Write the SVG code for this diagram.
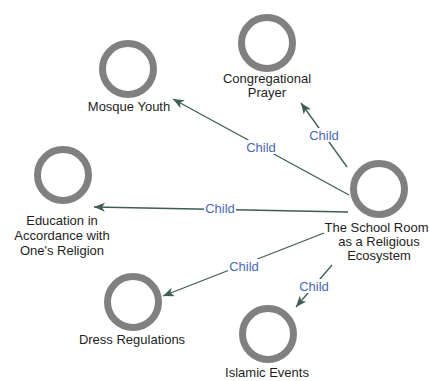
<svg xmlns="http://www.w3.org/2000/svg" width="429" height="381" viewBox="0 0 429 381">
<style>
.ring{fill:none;stroke:#808080;stroke-width:7}
.lbl{font-family:"Liberation Sans",Arial,sans-serif;font-size:13px;fill:#1e1e1e;text-anchor:middle}
.edge{stroke:#3e5d55;stroke-width:1.3;fill:none;marker-end:url(#arr)}
.el{font-family:"Liberation Sans",Arial,sans-serif;font-size:13px;fill:#4a68b2;text-anchor:middle}
.bg{fill:#fff}
</style>
<defs>
<marker id="arr" markerUnits="userSpaceOnUse" markerWidth="12" markerHeight="10" refX="11" refY="4.5" orient="auto">
<path d="M0,0 L11,4.5 L0,9 L3,4.5 z" fill="#3e5d55"/>
</marker>
</defs>
<rect width="429" height="381" fill="#fff"/>
<g id="connectors">
<line class="edge" x1="349" y1="195" x2="173" y2="99"/>
<rect class="bg" x="245" y="140" width="32" height="14"/>
<text class="el" x="261" y="152">Child</text>
<line class="edge" x1="347" y1="167" x2="301" y2="103"/>
<rect class="bg" x="308" y="128" width="32" height="14"/>
<text class="el" x="324" y="140">Child</text>
<line class="edge" x1="348" y1="212" x2="94" y2="207"/>
<rect class="bg" x="204" y="202" width="32" height="14"/>
<text class="el" x="220" y="213">Child</text>
<line class="edge" x1="324" y1="233" x2="163" y2="296"/>
<rect class="bg" x="228" y="259" width="32" height="14"/>
<text class="el" x="244" y="271">Child</text>
<line class="edge" x1="332" y1="265" x2="296" y2="307"/>
<rect class="bg" x="298" y="279" width="32" height="14"/>
<text class="el" x="314" y="291">Child</text>
</g>
<g id="school-room">
<circle class="ring" cx="379" cy="189" r="25.5"/>
<text class="lbl" x="376.5" y="232">The School Room</text>
<text class="lbl" x="379" y="246">as a Religious</text>
<text class="lbl" x="379" y="260">Ecosystem</text>
</g>
<g id="mosque-youth">
<circle class="ring" cx="128" cy="69" r="25.5"/>
<text class="lbl" x="129" y="111">Mosque Youth</text>
</g>
<g id="congregational-prayer">
<circle class="ring" cx="267" cy="43" r="25.5"/>
<text class="lbl" x="267" y="83">Congregational</text>
<text class="lbl" x="267" y="97">Prayer</text>
</g>
<g id="education">
<circle class="ring" cx="63" cy="175" r="25.5"/>
<text class="lbl" x="62" y="225">Education in</text>
<text class="lbl" x="62" y="240">Accordance with</text>
<text class="lbl" x="62" y="255">One's Religion</text>
</g>
<g id="dress-regulations">
<circle class="ring" cx="133" cy="302" r="25.5"/>
<text class="lbl" x="132" y="344">Dress Regulations</text>
</g>
<g id="islamic-events">
<circle class="ring" cx="268" cy="334" r="25.5"/>
<text class="lbl" x="267" y="377">Islamic Events</text>
</g>
</svg>
